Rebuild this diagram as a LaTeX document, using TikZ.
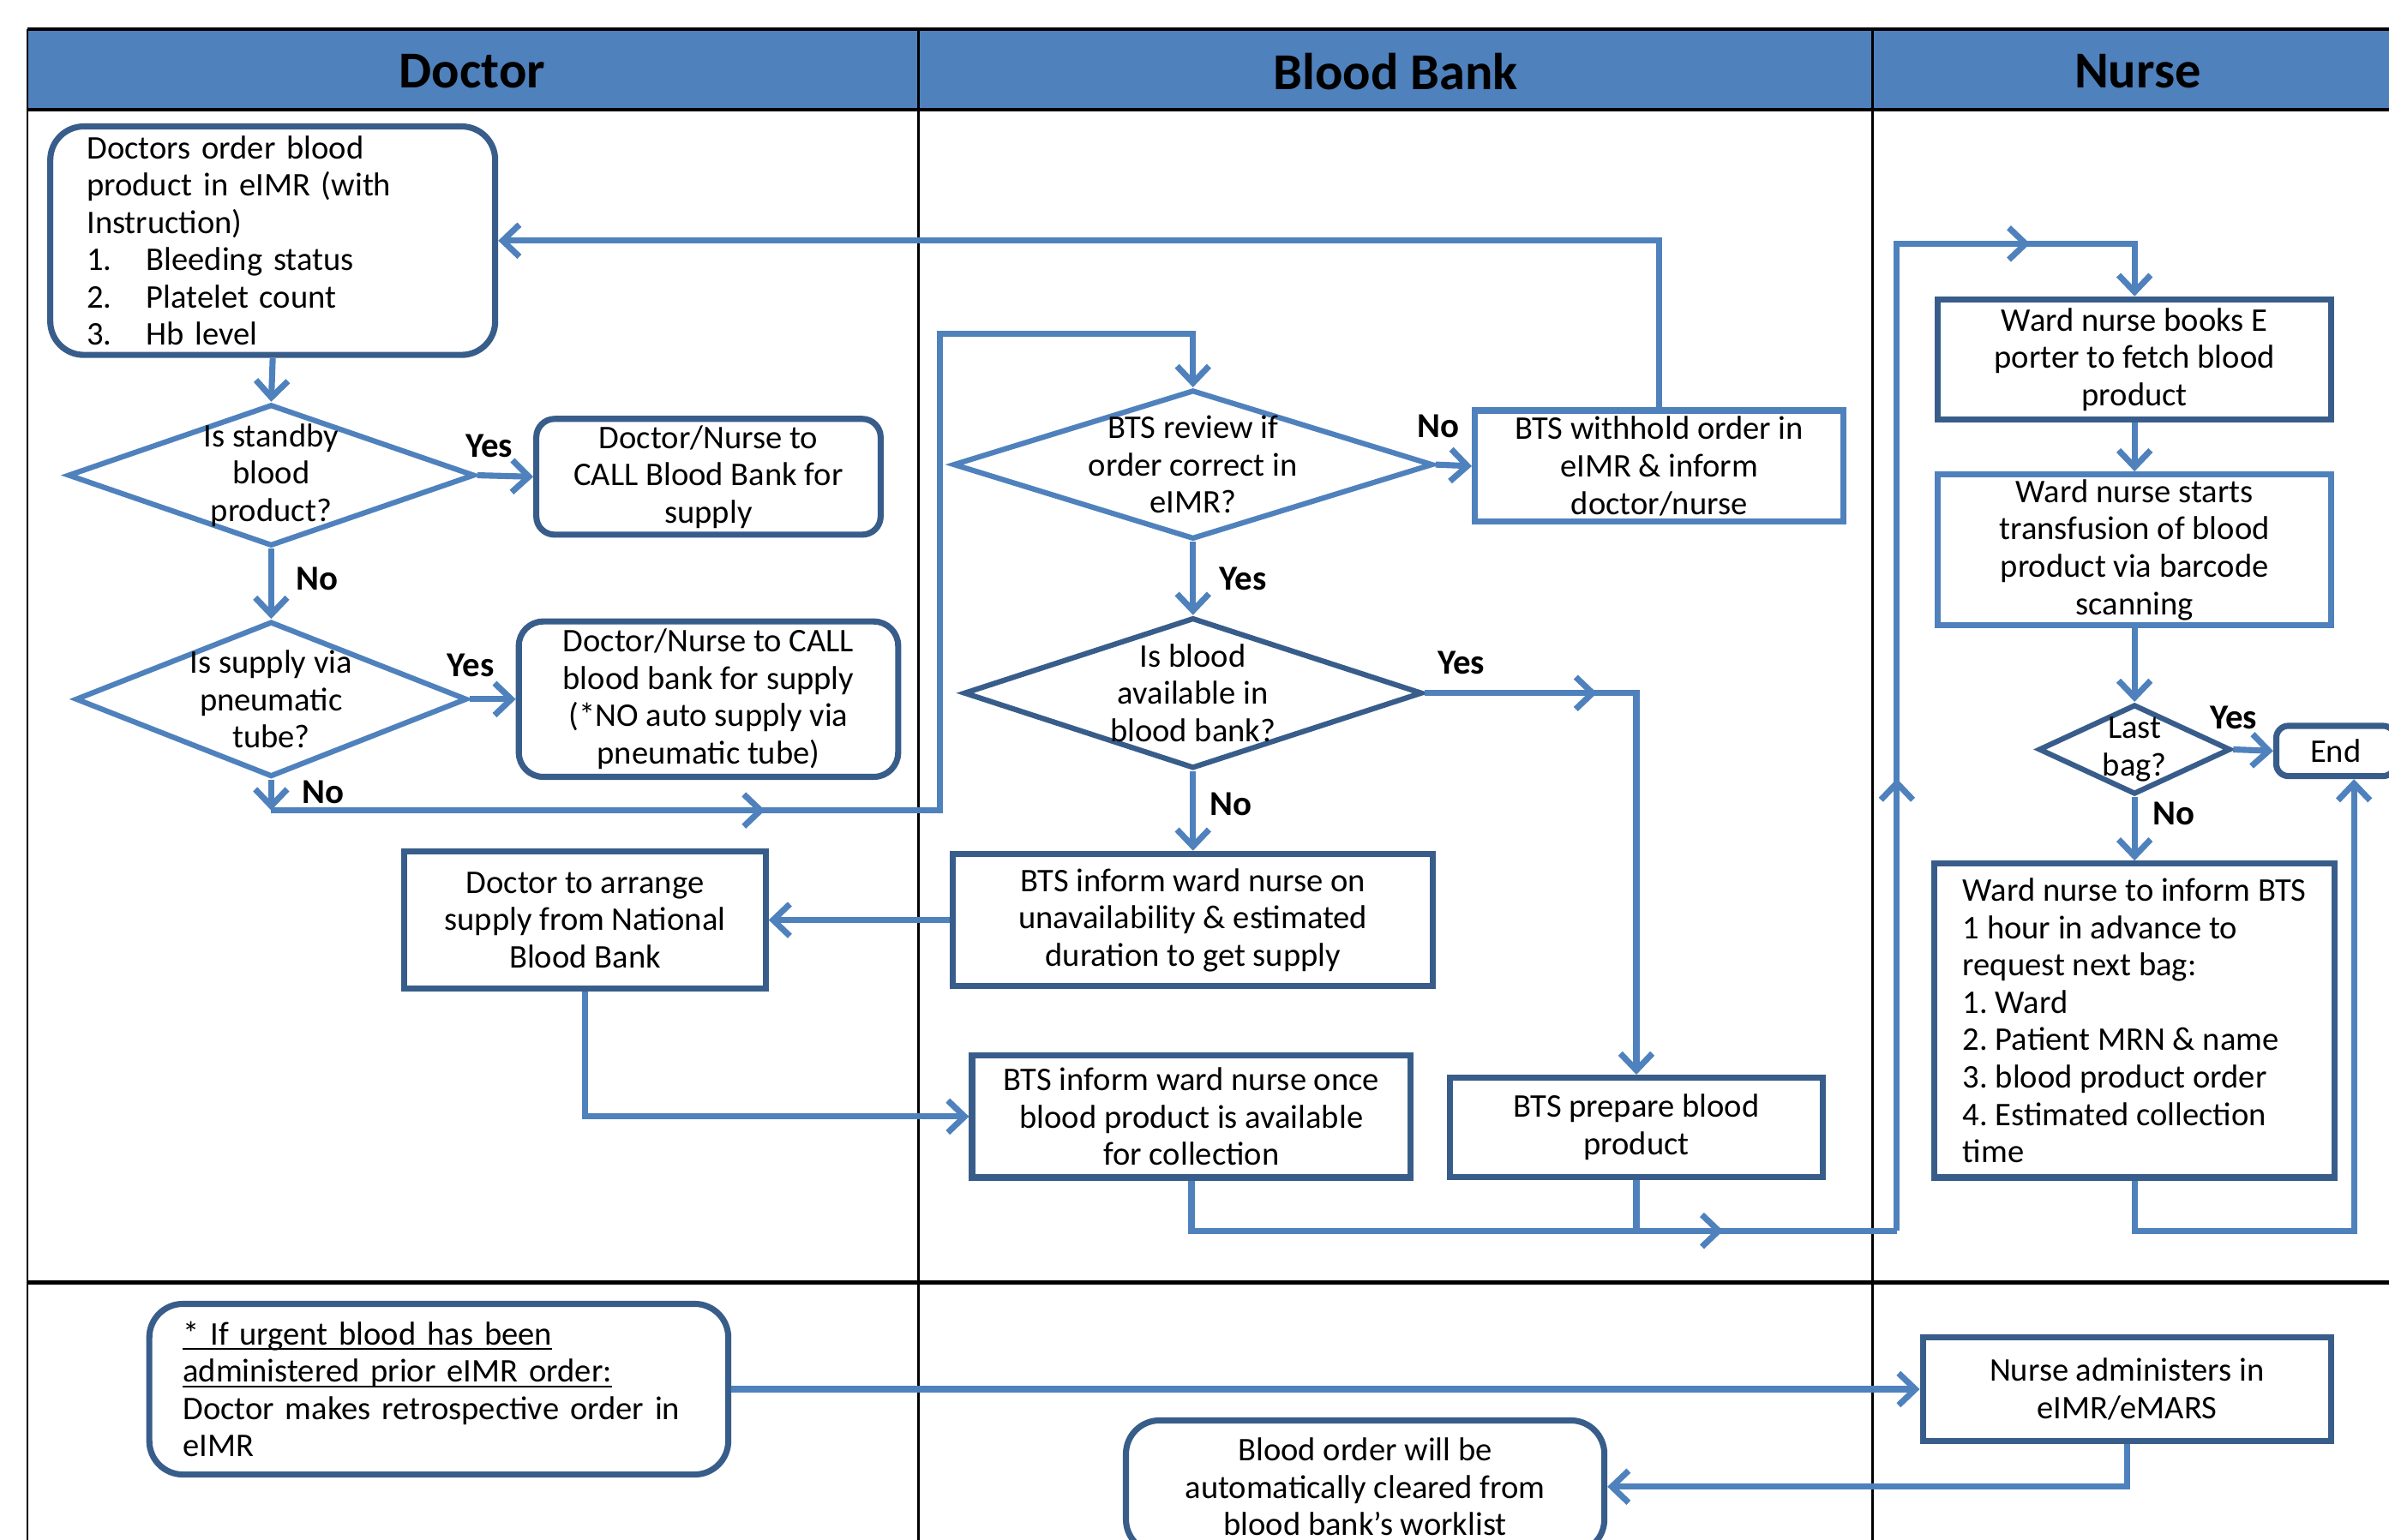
\documentclass[tikz,border=0pt]{standalone}
\usepackage{fontspec}
\setmainfont{Carlito}
\usetikzlibrary{arrows.meta,shapes.geometric,decorations.markings}

\definecolor{headblue}{RGB}{79,129,189}
\definecolor{lineblue}{RGB}{79,129,189}
\definecolor{boxblue}{RGB}{56,93,138}

\newcommand{\bodysize}{\fontsize{21.7}{24.5}\selectfont}
\newcommand{\headsize}{\fontsize{34}{40}\selectfont}
\newcommand{\answersize}{\fontsize{23}{26}\selectfont}
\newsavebox{\lowlinebox}
\newcommand{\lowline}[1]{\leavevmode\sbox{\lowlinebox}{#1}\rlap{\rule[-3.5pt]{\wd\lowlinebox}{1.3pt}}\usebox{\lowlinebox}}
\frenchspacing

\tikzset{every picture/.style={line width=0.75pt}}
\tikzset{
  lane/.style={draw=black, line width=1.6pt},
  rule/.style={draw=black, line width=2.4pt},
  head/.style={font=\headsize\bfseries, inner sep=0pt},
  box/.style={rectangle, draw=boxblue, line width=4pt, fill=white, inner sep=0pt, align=center, font=\bodysize},
  lbox/.style={box, draw=lineblue},
  rbox/.style={box, rounded corners=#1},
  decision/.style={diamond, draw=boxblue, line width=3.5pt, fill=white, inner sep=0pt},
  ldecision/.style={decision, draw=lineblue},
  dtext/.style={align=center, font=\bodysize, inner sep=0pt},
  answer/.style={font=\answersize\bfseries, inner sep=0pt},
  conn/.style={draw=lineblue, line width=4pt},
  flow/.style={conn, -{Straight Barb[length=11pt,width=21pt]}},
  marrow/.style={postaction={decorate, decoration={markings, mark=at position #1 with {\arrow{Straight Barb[length=11pt,width=21pt]}}}}},
}

\begin{document}
\begin{tikzpicture}[x=1pt,y=1pt,yscale=-1,xscale=1]
\useasboundingbox (0,0) rectangle (1568,1011);
\clip (0,0) rectangle (1568,1011);

% Swim lanes
\fill[headblue] (18,19) rectangle (1580,72);
\draw[rule] (18,19) -- (1580,19);
\draw[rule] (18,72) -- (1580,72);
\draw[lane] (18,19) -- (18,1030);
\draw[lane] (603,19) -- (603,1030);
\draw[lane] (1229,19) -- (1229,1030);
\draw[lane] (1577,19) -- (1577,1030);
\draw[rule] (18,842) -- (1580,842);

% Lane headings
\node[head] (hdoc) at (310,47) {Doctor};
\node[head] (hbank) at (916,47) {Blood Bank};
\node[head] (hnurse) at (1403,47) {Nurse};

% Doctor lane
\node[rbox=22pt, minimum width=292pt, minimum height=150pt, text width=244pt, align=left] (ord) at (179,158) {Doctors order blood\\product in eIMR (with\\Instruction)\\\makebox[39pt][l]{1.}Bleeding status\\\makebox[39pt][l]{2.}Platelet count\\\makebox[39pt][l]{3.}Hb level};
\node[ldecision, minimum width=267pt, minimum height=93pt] (std) at (178,312) {};
\node[dtext] (std-t) at (std) {Is standby\\blood\\product?};
\node[rbox=12pt, minimum width=226pt, minimum height=76pt] (call1) at (465,313) {Doctor/Nurse to\\CALL Blood Bank for\\supply};
\node[ldecision, minimum width=257pt, minimum height=102pt] (pt) at (178,459) {};
\node[dtext] (pt-t) at (pt) {Is supply via\\pneumatic\\tube?};
\node[rbox=16pt, minimum width=249pt, minimum height=102pt] (call2) at (465,459) {Doctor/Nurse to CALL\\blood bank for supply\\(*NO auto supply via\\pneumatic tube)};
\node[box, minimum width=237pt, minimum height=90pt] (nat) at (384,604) {Doctor to arrange\\supply from National\\Blood Bank};

% Blood Bank lane
\node[ldecision, minimum width=315pt, minimum height=98pt] (rev) at (783,305) {};
\node[dtext] (rev-t) at (rev) {BTS review if\\order correct in\\eIMR?};
\node[lbox, minimum width=242pt, minimum height=73pt] (wh) at (1089,306) {BTS withhold order in\\eIMR \& inform\\doctor/nurse};
\node[decision, minimum width=301pt, minimum height=99pt] (avail) at (783,455) {};
\node[dtext] (avail-t) at (avail) {Is blood\\available in\\blood bank?};
\node[box, minimum width=315pt, minimum height=87pt] (unav) at (783,604) {BTS inform ward nurse on\\unavailability \& estimated\\duration to get supply};
\node[box, minimum width=288pt, minimum height=80pt] (coll) at (782,733) {BTS inform ward nurse once\\blood product is available\\for collection};
\node[box, minimum width=245pt, minimum height=65pt] (prep) at (1074,740) {BTS prepare blood\\product};

% Nurse lane
\node[box, minimum width=258pt, minimum height=79pt] (book) at (1401,236) {Ward nurse books E\\porter to fetch blood\\product};
\node[lbox, minimum width=258pt, minimum height=99pt] (trans) at (1401,361) {Ward nurse starts\\transfusion of blood\\product via barcode\\scanning};
\node[decision, minimum width=126pt, minimum height=59pt] (last) at (1401,492) {};
\node[dtext] (last-t) at (last) {Last\\bag?};
\node[rbox=8pt, minimum width=78pt, minimum height=33pt] (end) at (1533,493) {End};
\node[box, minimum width=263pt, minimum height=206pt, align=left] (next) at (1401,670) {Ward nurse to inform BTS\\1 hour in advance to\\request next bag:\\1. Ward\\2. Patient MRN \& name\\3. blood product order\\4. Estimated collection\\time};

% Retrospective order row
\node[rbox=22pt, minimum width=380pt, minimum height=112pt, text width=336pt, align=left] (urg) at (288,912) {\lowline{* If urgent blood has been}\\\lowline{administered prior eIMR order:}\\Doctor makes retrospective order in\\eIMR};
\node[box, minimum width=268pt, minimum height=68pt] (adm) at (1396,912) {Nurse administers in\\eIMR/eMARS};
\node[rbox=22pt, minimum width=314pt, minimum height=87pt] (clr) at (896,976) {Blood order will be\\automatically cleared from\\blood bank's worklist};

% Yes / No
\node[answer] (y1) at (321,293) {Yes};
\node[answer] (n1) at (208,380) {No};
\node[answer] (y2) at (309,437) {Yes};
\node[answer] (n2) at (212,520) {No};
\node[answer] (n3) at (944,280) {No};
\node[answer] (y3) at (816,380) {Yes};
\node[answer] (y4) at (959,435) {Yes};
\node[answer] (n4) at (808,528) {No};
\node[answer] (y5) at (1466,471) {Yes};
\node[answer] (n5) at (1427,534) {No};

% Corners
\coordinate (c1) at (178,532);
\coordinate (c2) at (617,219);
\coordinate (c4) at (1245,808);
\coordinate (c5) at (1245,160);
\coordinate (c6) at (1545,808);

% Connectors
\draw[flow] (ord.south) -- (std.north);
\draw[flow] (std.east) -- (call1.west);
\draw[flow] (std.south) -- (pt.north);
\draw[flow] (pt.east) -- (call2.west);
\draw[flow] (pt.south) -- (c1);
\draw[flow, marrow=0.34] (c1) -| (c2) -| (rev.north);
\draw[flow] (rev.east) -- (wh.west);
\draw[flow] (wh.north) |- (ord.east);
\draw[flow] (rev.south) -- (avail.north);
\draw[flow, marrow=0.29] (avail.east) -| (prep.north);
\draw[flow] (avail.south) -- (unav.north);
\draw[flow] (unav.west) -- (nat.east);
\draw[flow] (nat.south) |- (coll.west);
\draw[conn, marrow=0.77] (coll.south) |- (c4);
\draw[conn] (prep.south) -- (prep.south |- c4);
\draw[flow, marrow=0.354, marrow=0.877] (c4) -- (c5) -| (book.north);
\draw[flow] (book.south) -- (trans.north);
\draw[flow] (trans.south) -- (last.north);
\draw[flow] (last.east) -- (end.west);
\draw[flow] (last.south) -- (next.north);
\draw[flow] (next.south) |- (c6) -- (c6 |- end.south);
\draw[flow] (urg.east) -- (adm.west);
\draw[flow] (adm.south) |- (clr.east);

\end{tikzpicture}
\end{document}
